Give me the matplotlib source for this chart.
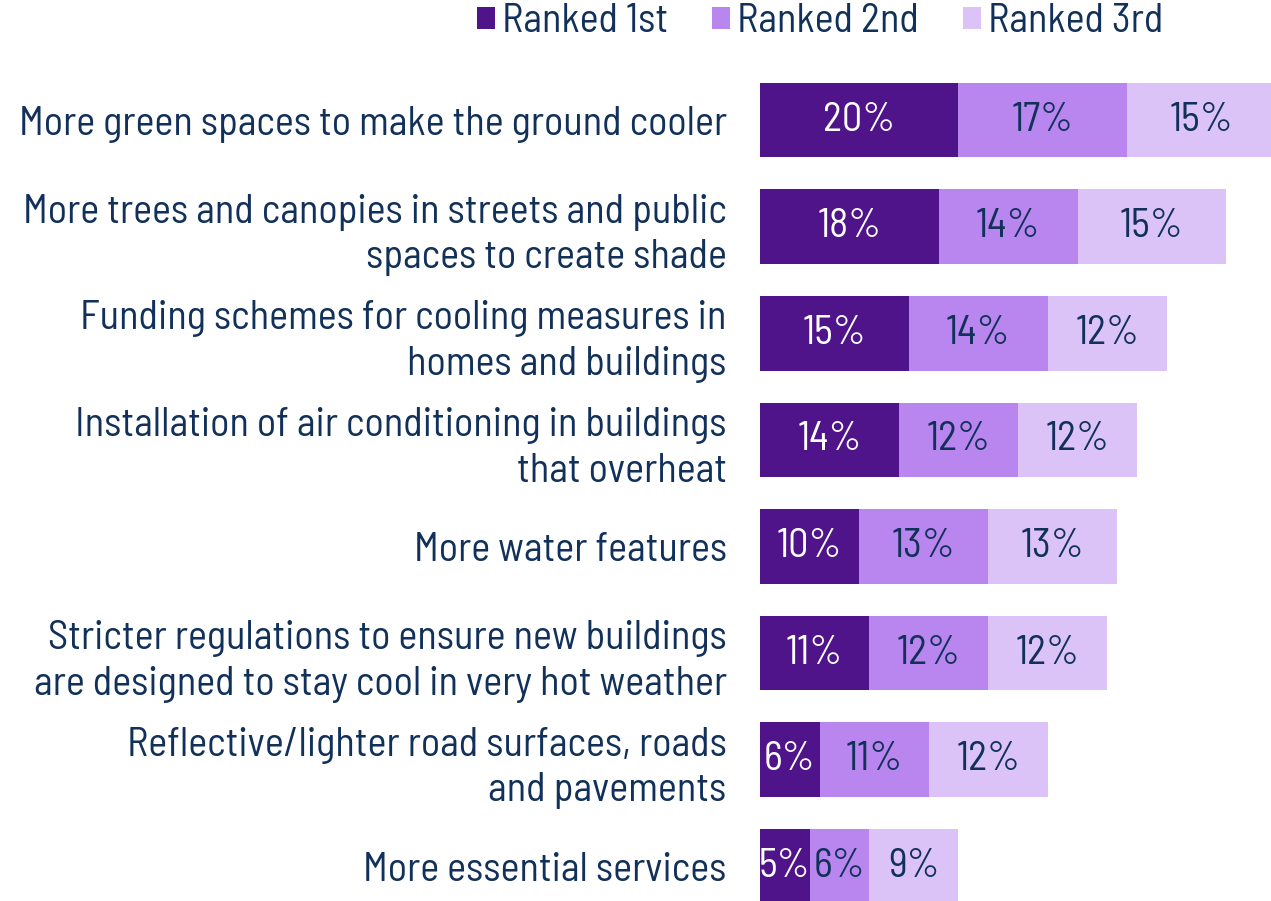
import numpy as np
import matplotlib.pyplot as plt
from matplotlib.patches import Patch

plt.rcParams['font.family'] = ['Barlow Semi Condensed', 'Liberation Sans Narrow', 'DejaVu Sans']

categories = [
    'More green spaces to make the ground cooler',
    'More trees and canopies in streets and public\nspaces to create shade',
    'Funding schemes for cooling measures in\nhomes and buildings',
    'Installation of air conditioning in buildings\nthat overheat',
    'More water features',
    'Stricter regulations to ensure new buildings\nare designed to stay cool in very hot weather',
    'Reflective/lighter road surfaces, roads\nand pavements',
    'More essential services',
]
ranked_1st = [20, 18, 15, 14, 10, 11, 6, 5]
ranked_2nd = [17, 14, 14, 12, 13, 12, 11, 6]
ranked_3rd = [15, 15, 12, 12, 13, 12, 12, 9]
series_names = ['Ranked 1st', 'Ranked 2nd', 'Ranked 3rd']

colors = ['#4f148a', '#b886ee', '#dcc3f7']
text_colors = ['white', '#11305a', '#11305a']
navy = '#11305a'

W, H = 1271, 901
fig = plt.figure(figsize=(W / 100, H / 100), dpi=100)
ax = fig.add_axes([760 / W, 0, 1 - 760 / W, 1])

y = np.arange(len(categories))
left = np.zeros(len(categories))
for vals, col, tcol in zip([ranked_1st, ranked_2nd, ranked_3rd], colors, text_colors):
    vals = np.array(vals)
    ax.barh(y, vals, left=left, height=0.70, color=col, edgecolor='none')
    for yi, l, v in zip(y, left, vals):
        ax.text(l + v / 2, yi, f'{v}%', ha='center', va='center',
                color=tcol, fontsize=29)
    left += vals

ax.set_xlim(0, 51.5)
ax.set_ylim(7.326, -1.126)
ax.set_yticks(y)
ax.set_yticklabels(categories, fontsize=29, color=navy, linespacing=1.3)
ax.tick_params(axis='y', length=0, pad=24)
ax.set_xticks([])
for s in ax.spines.values():
    s.set_visible(False)

handles = [Patch(facecolor=c, edgecolor='none') for c in colors]
fig.legend(handles, series_names, loc='center', ncol=3,
           bbox_to_anchor=(820 / W, 1 - 22 / H), frameon=False,
           fontsize=29, labelcolor=navy, handlelength=0.45, handleheight=0.45,
           handletextpad=0.17, columnspacing=1.1, borderaxespad=0)

fig.savefig('out.png', dpi=100)
